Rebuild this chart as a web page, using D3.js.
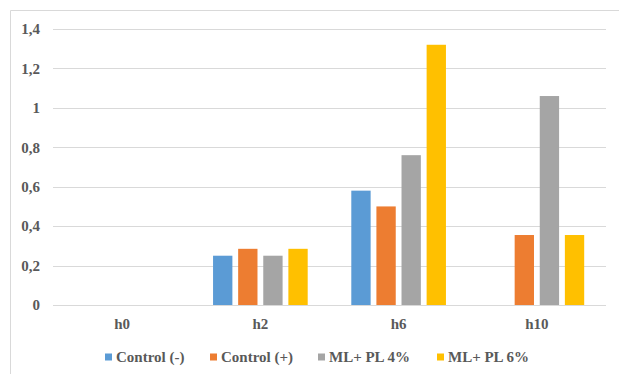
<!DOCTYPE html>
<html>
<head>
<meta charset="utf-8">
<script src="https://cdn.jsdelivr.net/npm/d3@7"></script>
<style>
  body { margin: 0; background: #fff; }
</style>
</head>
<body>
<div id="chart"></div>
<script>
const categories = ["h0", "h2", "h6", "h10"];
const seriesNames = ["Control (-)", "Control (+)", "ML+ PL 4%", "ML+ PL 6%"];
const controlMinus = [0, 0.25, 0.58, 0];
const controlPlus = [0, 0.285, 0.50, 0.355];
const mlpl4 = [0, 0.25, 0.76, 1.06];
const mlpl6 = [0, 0.285, 1.32, 0.355];
const yTicks = [0, 0.2, 0.4, 0.6, 0.8, 1, 1.2, 1.4];
const colors = ["#5B9BD5", "#ED7D31", "#A5A5A5", "#FFC000"];

const allSeries = [controlMinus, controlPlus, mlpl4, mlpl6];
const width = 619, height = 374;
const margin = { top: 29, right: 13, bottom: 69, left: 53 };
const serif = "'Times New Roman', 'Liberation Serif', 'DejaVu Serif', serif";

const svg = d3.select("#chart").append("svg")
  .attr("width", width)
  .attr("height", height)
  .attr("font-family", serif)
  .attr("font-weight", "bold");

// chart frame
svg.append("path")
  .attr("d", `M10.5,${height} L10.5,10.5 L${width},10.5`)
  .attr("fill", "none")
  .attr("stroke", "#d9d9d9")
  .attr("stroke-width", 1);

const x = d3.scaleBand()
  .domain(categories)
  .range([margin.left, width - margin.right])
  .paddingInner(0).paddingOuter(0);

const xInner = d3.scaleBand()
  .domain(d3.range(seriesNames.length))
  .range([21.8, x.bandwidth() - 21.8])
  .paddingInner(0.23).paddingOuter(0);

const y = d3.scaleLinear()
  .domain([0, 1.4])
  .range([height - margin.bottom, margin.top]);

const fmt = d => String(d).replace(".", ",");

// gridlines
svg.append("g")
  .selectAll("line")
  .data(yTicks)
  .join("line")
  .attr("x1", margin.left)
  .attr("x2", width - margin.right)
  .attr("y1", d => Math.round(y(d)) + 0.5)
  .attr("y2", d => Math.round(y(d)) + 0.5)
  .attr("stroke", "#d9d9d9")
  .attr("stroke-width", 1);

// y labels
svg.append("g")
  .selectAll("text")
  .data(yTicks)
  .join("text")
  .attr("x", 40)
  .attr("y", d => y(d))
  .attr("dy", "0.35em")
  .attr("text-anchor", "end")
  .attr("font-size", 15)
  .attr("fill", "#595959")
  .text(fmt);

// bars
const groups = svg.append("g")
  .selectAll("g")
  .data(categories)
  .join("g")
  .attr("transform", d => `translate(${x(d)},0)`);

groups.selectAll("rect")
  .data((c, ci) => allSeries.map((s, si) => ({ si, v: s[ci] })))
  .join("rect")
  .attr("x", d => xInner(d.si))
  .attr("width", xInner.bandwidth())
  .attr("y", d => y(d.v))
  .attr("height", d => y(0) - y(d.v))
  .attr("fill", d => colors[d.si]);

// x labels
svg.append("g")
  .selectAll("text")
  .data(categories)
  .join("text")
  .attr("x", d => x(d) + x.bandwidth() / 2)
  .attr("y", 324)
  .attr("dy", "0.35em")
  .attr("text-anchor", "middle")
  .attr("font-size", 15)
  .attr("fill", "#595959")
  .text(d => d);

// legend
const legendX = [105, 210, 318, 437];
const legend = svg.append("g")
  .selectAll("g")
  .data(seriesNames)
  .join("g")
  .attr("transform", (d, i) => `translate(${legendX[i]},357)`);

legend.append("rect")
  .attr("x", 0).attr("y", -3.5)
  .attr("width", 7).attr("height", 7)
  .attr("fill", (d, i) => colors[i]);

legend.append("text")
  .attr("x", 11)
  .attr("dy", "0.35em")
  .attr("font-size", 15)
  .attr("fill", "#595959")
  .text(d => d);
</script>
</body>
</html>
